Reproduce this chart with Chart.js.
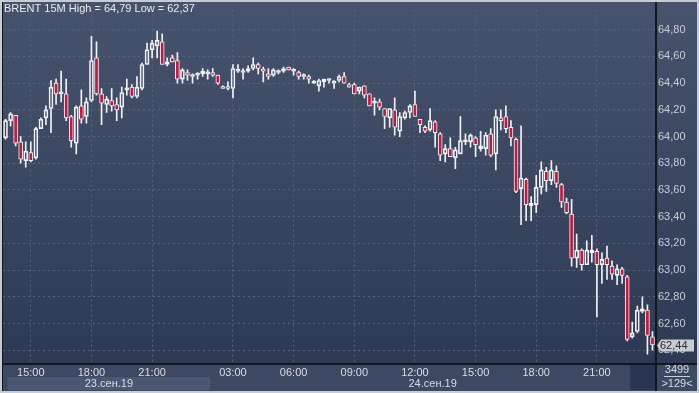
<!DOCTYPE html>
<html>
<head>
<meta charset="utf-8">
<script src="https://cdn.jsdelivr.net/npm/chart.js@4"></script>
<style>
  html, body { margin: 0; padding: 0; background: #c8cdd4; }
  canvas { display: block; }
</style>
</head>
<body>
<canvas id="myChart" width="699" height="393"></canvas>
<script>
// 15 minute candles, BRENT, 23-24 sep 2019
var times23 = ['13:45','14:00','14:15','14:30','14:45','15:00','15:15','15:30','15:45','16:00','16:15','16:30','16:45',
  '17:00','17:15','17:30','17:45','18:00','18:15','18:30','18:45','19:00','19:15','19:30','19:45','20:00','20:15','20:30','20:45',
  '21:00','21:15','21:30','21:45','22:00','22:15','22:30','22:45'];
var times24 = ['01:00','01:15','01:30','01:45','02:00','02:15','02:30','02:45','03:00','03:15','03:30','03:45',
  '04:00','04:15','04:30','04:45','05:00','05:15','05:30','05:45','06:00','06:15','06:30','06:45',
  '07:00','07:15','07:30','07:45','08:00','08:15','08:30','08:45','09:00','09:15','09:30','09:45',
  '10:00','10:15','10:30','10:45','11:00','11:15','11:30','11:45','12:00','12:15','12:30','12:45',
  '13:00','13:15','13:30','13:45','14:00','14:15','14:30','14:45','15:00','15:15','15:30','15:45',
  '16:00','16:15','16:30','16:45','17:00','17:15','17:30','17:45','18:00','18:15','18:30','18:45',
  '19:00','19:15','19:30','19:45','20:00','20:15','20:30','20:45','21:00','21:15','21:30','21:45',
  '22:00','22:15','22:30','22:45','23:00','23:15','23:30','23:45'];
var categories = times23.concat(times24);

var open = [63.99,64.12,64.16,63.96,63.82,63.88,63.84,64.06,64.14,64.21,64.40,64.32,64.32,64.15,63.95,64.23,64.15,64.27,64.59,64.32,
  64.24,64.27,64.24,64.22,64.35,64.37,64.30,64.36,64.54,64.65,64.68,64.71,64.54,64.59,64.57,64.43,64.48,64.45,64.46,64.47,
  64.47,64.48,64.46,64.37,64.37,64.36,64.49,64.48,64.49,64.51,64.54,64.50,64.47,64.46,64.48,64.49,64.52,64.49,64.48,64.45,
  64.45,64.40,64.38,64.41,64.42,64.40,64.42,64.45,64.39,64.39,64.34,64.38,64.32,64.25,64.26,64.21,64.14,64.20,64.04,64.14,
  64.18,64.24,64.13,64.07,64.05,64.11,64.02,63.87,63.91,63.84,63.87,63.96,63.96,63.99,63.91,63.91,64.02,63.87,64.14,64.15,
  64.07,63.98,63.61,63.68,63.48,63.49,63.62,63.74,63.67,63.74,63.64,63.51,63.42,63.09,63.15,63.04,63.13,63.14,63.04,63.09,
  63.03,62.96,63.01,62.95,62.50,62.54,62.69,62.70,62.50];
var high = [64.13,64.18,64.16,64.00,63.96,63.96,64.07,64.14,64.23,64.42,64.43,64.49,64.43,64.16,64.23,64.35,64.29,64.75,64.71,64.36,
  64.30,64.36,64.29,64.37,64.43,64.39,64.45,64.55,64.70,64.72,64.79,64.77,64.59,64.61,64.63,64.51,64.50,64.47,64.48,64.51,
  64.50,64.51,64.46,64.38,64.41,64.54,64.54,64.51,64.53,64.59,64.55,64.52,64.51,64.51,64.50,64.52,64.52,64.51,64.49,64.47,
  64.46,64.42,64.43,64.43,64.43,64.42,64.46,64.48,64.40,64.40,64.37,64.38,64.32,64.29,64.28,64.21,64.21,64.29,64.18,64.19,
  64.24,64.34,64.13,64.08,64.21,64.12,64.03,63.94,63.99,63.92,64.15,64.02,64.02,64.00,64.04,64.03,64.06,64.20,64.20,64.23,
  64.12,63.99,64.08,63.69,63.55,63.71,63.81,63.77,63.82,63.78,63.65,63.54,63.53,63.27,63.16,63.22,63.26,63.16,63.13,63.18,
  63.07,63.04,63.02,62.96,62.61,62.73,62.80,62.74,62.54];
var low = [63.98,64.08,63.93,63.80,63.77,63.81,63.83,64.06,64.09,64.03,64.24,64.26,64.12,63.92,63.87,64.10,64.10,64.26,64.31,64.09,
  64.18,64.19,64.12,64.14,64.31,64.29,64.29,64.35,64.54,64.59,64.59,64.54,64.53,64.56,64.40,64.40,64.42,64.40,64.43,64.45,
  64.43,64.45,64.39,64.36,64.35,64.29,64.48,64.43,64.48,64.50,64.47,64.41,64.43,64.45,64.47,64.48,64.50,64.46,64.43,64.43,
  64.40,64.40,64.34,64.37,64.40,64.36,64.41,64.40,64.37,64.32,64.32,64.29,64.23,64.16,64.20,64.06,64.07,64.01,64.00,64.13,
  64.14,64.15,64.03,64.03,64.04,63.92,63.82,63.81,63.85,63.76,63.87,63.94,63.92,63.85,63.89,63.86,63.85,63.75,64.05,64.03,
  63.93,63.58,63.34,63.37,63.37,63.43,63.57,63.59,63.64,63.62,63.47,63.42,63.03,63.02,63.00,63.04,63.06,62.65,62.90,62.93,
  62.93,62.89,62.90,62.47,62.49,62.53,62.68,62.37,62.40];
var close = [64.12,64.17,63.95,63.83,63.89,63.82,64.06,64.13,64.20,64.37,64.32,64.33,64.14,63.97,64.22,64.13,64.26,64.57,64.32,64.25,
  64.28,64.23,64.20,64.33,64.36,64.30,64.37,64.54,64.65,64.70,64.72,64.54,64.56,64.56,64.43,64.50,64.46,64.46,64.47,64.49,
  64.48,64.46,64.40,64.36,64.36,64.51,64.50,64.49,64.51,64.54,64.51,64.49,64.45,64.50,64.49,64.51,64.50,64.50,64.45,64.46,
  64.43,64.40,64.42,64.43,64.43,64.41,64.45,64.40,64.37,64.32,64.37,64.31,64.23,64.26,64.22,64.15,64.21,64.07,64.15,64.18,
  64.23,64.15,64.09,64.04,64.12,64.03,63.86,63.91,63.85,63.90,63.97,63.97,64.01,63.94,63.93,64.01,63.86,64.15,64.12,64.06,
  63.99,63.59,63.69,63.49,63.50,63.62,63.75,63.67,63.75,63.65,63.51,63.43,63.09,63.15,63.04,63.15,63.15,63.04,63.08,63.04,
  62.97,63.01,62.96,62.48,62.53,62.70,62.71,62.51,62.44];

var yTicksMin = 62.304, yTicksMax = 64.951, yStep = 0.2;
var dateLabels = ['23.сен.19', '24.сен.19'];
var titleText = 'BRENT 15M High = 64,79 Low = 62,37';
var barsTotal = '3499';

var FONT = "'Liberation Sans Narrow', 'Arial Narrow', 'Liberation Sans', sans-serif";
var upColor = '#f2f3f6', downColor = '#c8163c', gridColor = '#56637f';

var bodies = [], upperWicks = [], lowerWicks = [], bodyColors = [];
open.forEach(function(o, i) {
  var c = close[i];
  var top = Math.max(o, c), bot = Math.min(o, c);
  bodies.push([bot, top]);
  upperWicks.push([top, high[i]]);
  lowerWicks.push([low[i], bot]);
  bodyColors.push(c < o ? downColor : 'rgba(0,0,0,0)');
});

function isMajor(i) {
  var t = categories[i];
  if (!t) return false;
  return t.slice(3) === '00' && parseInt(t.slice(0, 2), 10) % 3 === 0;
}

var framePlugin = {
  id: 'frame',
  beforeDraw: function(chart) {
    var ctx = chart.ctx, a = chart.chartArea, W = chart.width, H = chart.height;
    var x = chart.scales.x;
    ctx.save();
    ctx.fillStyle = '#c8cdd4';
    ctx.fillRect(0, 0, W, H);
    var g = ctx.createLinearGradient(0, a.top, 0, a.bottom);
    g.addColorStop(0, '#47536d');
    g.addColorStop(1, '#2e3954');
    ctx.fillStyle = g;
    ctx.fillRect(2, 2, W - 4, a.bottom - 2);
    // time axis strip
    ctx.fillStyle = '#3d4963';
    ctx.fillRect(2, a.bottom, W - 4, H - 2 - a.bottom);
    // first day band
    ctx.fillStyle = '#4b5873';
    var b0 = x.getPixelForValue(0) + 2, b1 = x.getPixelForValue(40) + 2.5;
    ctx.fillRect(b0, a.bottom + 14, b1 - b0, 13);
    // dark block at the right of the time axis
    ctx.fillStyle = '#2a3550';
    ctx.fillRect(a.right - 25, a.bottom + 1, 25, 26);
    ctx.restore();
  },
  afterDraw: function(chart) {
    var ctx = chart.ctx, a = chart.chartArea, W = chart.width, H = chart.height;
    var x = chart.scales.x, y = chart.scales.y;
    ctx.save();
    // borders
    ctx.fillStyle = '#12161f';
    ctx.fillRect(2, 2, 1, H - 4);
    ctx.fillRect(a.right, 2, 2, H - 4);
    ctx.fillRect(2, a.bottom, W - 4, 2);

    ctx.font = '11px ' + FONT;
    ctx.textBaseline = 'middle';
    ctx.fillStyle = '#e9ecf1';
    ctx.textAlign = 'left';
    ctx.fillText(titleText, 4, 8.5);

    // date row
    ctx.fillStyle = '#d8dce4';
    ctx.textAlign = 'center';
    var b0 = x.getPixelForValue(0) + 2, b1 = x.getPixelForValue(40) + 2.5;
    ctx.fillText(dateLabels[0], (b0 + b1) / 2, a.bottom + 20.5);
    ctx.fillText(dateLabels[1], (x.getPixelForValue(84) + x.getPixelForValue(85)) / 2, a.bottom + 20.5);

    // bar counters
    ctx.fillText(barsTotal, 677, a.bottom + 7);
    ctx.fillText('>' + categories.length + '<', 677, a.bottom + 21);
    ctx.fillStyle = '#c8cdd6';
    ctx.fillRect(664, a.bottom + 13, 26, 1);

    // last price marker
    var last = close[close.length - 1];
    var py = Math.round(y.getPixelForValue(last)) + 0.5;
    ctx.fillStyle = '#c9cdd3';
    ctx.beginPath();
    ctx.moveTo(a.right + 2, py);
    ctx.lineTo(a.right + 6, py - 6);
    ctx.lineTo(694, py - 6);
    ctx.lineTo(694, py + 6);
    ctx.lineTo(a.right + 6, py + 6);
    ctx.closePath();
    ctx.fill();
    ctx.fillStyle = '#262b36';
    ctx.textAlign = 'left';
    ctx.fillText(last.toFixed(2).replace('.', ','), a.right + 5, py);
    ctx.restore();
  }
};

var ctx = document.getElementById('myChart').getContext('2d');

var myChart = new Chart(ctx, {
  type: 'bar',
  data: {
    labels: categories,
    datasets: [{
      label: 'upper',
      data: upperWicks,
      backgroundColor: upColor,
      borderWidth: 0,
      barThickness: 1,
      grouped: false,
      order: 2
    }, {
      label: 'lower',
      data: lowerWicks,
      backgroundColor: upColor,
      borderWidth: 0,
      barThickness: 1,
      grouped: false,
      order: 2
    }, {
      label: 'body',
      data: bodies,
      backgroundColor: bodyColors,
      borderColor: upColor,
      borderWidth: 1,
      borderSkipped: false,
      barThickness: 4,
      minBarLength: 2,
      grouped: false,
      order: 1
    }]
  },
  options: {
    responsive: false,
    animation: false,
    devicePixelRatio: 1,
    layout: { padding: { left: 3, top: 3, right: 2, bottom: 2 } },
    plugins: {
      legend: { display: false },
      tooltip: { enabled: false }
    },
    scales: {
      x: {
        type: 'category',
        offset: true,
        grid: {
          offset: false,
          drawTicks: false,
          color: function(c) { return isMajor(c.index) ? gridColor : 'rgba(0,0,0,0)'; }
        },
        border: { display: false, dash: [2, 3] },
        ticks: {
          autoSkip: false,
          maxRotation: 0,
          minRotation: 0,
          padding: 3,
          color: '#d8dce4',
          font: { family: FONT, size: 11 },
          callback: function(v, i) { return isMajor(i) ? categories[i] : ''; }
        },
        afterFit: function(s) { s.height = 28; }
      },
      y: {
        position: 'right',
        min: yTicksMin,
        max: yTicksMax,
        grid: { color: gridColor, drawTicks: false },
        border: { display: false, dash: [2, 3] },
        ticks: {
          stepSize: yStep,
          includeBounds: false,
          padding: 3,
          color: '#c6ccd7',
          font: { family: FONT, size: 11 },
          callback: function(v) { return v.toFixed(2).replace('.', ','); }
        },
        afterFit: function(s) { s.width = 42; }
      }
    }
  },
  plugins: [framePlugin]
});
</script>
</body>
</html>
